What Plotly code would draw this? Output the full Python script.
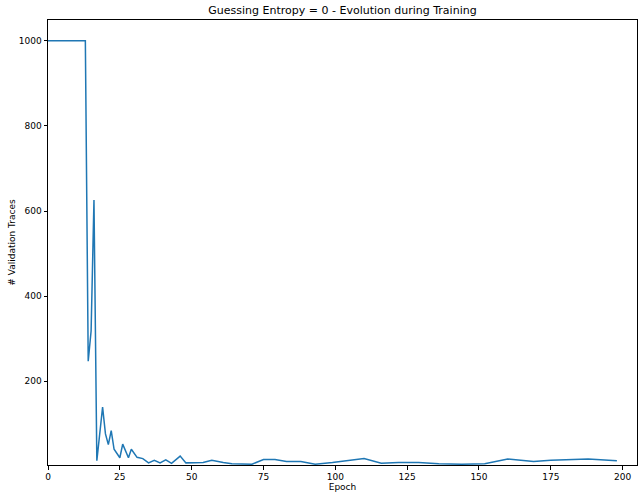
import plotly.graph_objects as go

epochs = [0, 13, 14, 15, 16, 17, 19, 20, 21, 22, 23, 25, 26, 28, 29, 31, 33, 35, 37, 39,
          41, 43, 46, 48, 54, 57, 61, 64, 71, 75, 79, 83, 88, 93, 99, 104, 110, 116, 122,
          129, 136, 144, 152, 160, 169, 175, 181, 188, 198]
traces = [1000, 1000, 247, 318, 626, 13, 139, 76, 51, 84, 40, 20, 52, 20, 40, 21, 18, 8, 14, 8,
          15, 7, 24, 8, 9, 14, 9, 6, 5, 16, 16, 11, 11, 5, 9, 13, 18, 7, 9,
          9, 6, 5, 6, 17, 11, 14, 16, 17, 13]

x_ticks = [0, 25, 50, 75, 100, 125, 150, 175, 200]
y_ticks = [200, 400, 600, 800, 1000]

font = "DejaVu Sans"

fig = go.Figure()
fig.add_trace(go.Scatter(x=epochs, y=traces, mode="lines",
                         line=dict(color="#1f77b4", width=1.5)))

axis_common = dict(showgrid=False, zeroline=False, showline=True, linecolor="black",
                   linewidth=1, mirror=True, ticks="outside", ticklen=3.5,
                   tickwidth=1, tickcolor="black",
                   tickfont=dict(family=font, size=9, color="black"))

fig.update_layout(
    width=639, height=494,
    margin=dict(l=48, r=2, t=20, b=29),
    paper_bgcolor="white", plot_bgcolor="white",
    showlegend=False,
    title=dict(text="Guessing Entropy = 0 - Evolution during Training",
               x=0.5, xref="paper", y=1, yref="container", yanchor="top", pad=dict(t=6),
               font=dict(family=font, size=11, color="black")),
    xaxis=dict(range=[0, 205], tickvals=x_ticks,
               title=dict(text="Epoch", standoff=2, font=dict(family=font, size=9, color="black")),
               **axis_common),
    yaxis=dict(range=[3, 1049], tickvals=y_ticks,
               title=dict(text="# Validation Traces", standoff=1,
                          font=dict(family=font, size=9, color="black")),
               **axis_common),
)

fig.write_html("out.html")
